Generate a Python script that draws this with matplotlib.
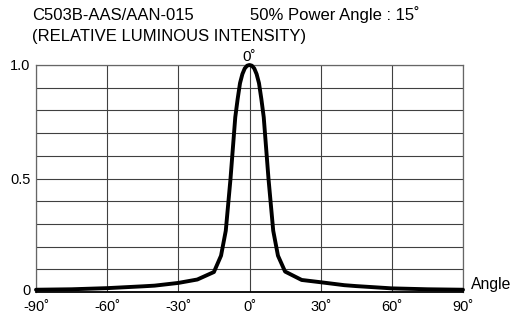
#!/usr/bin/env python3
import matplotlib
matplotlib.use("Agg")
import matplotlib.pyplot as plt
import matplotlib.transforms as mtransforms
import numpy as np

# radiation pattern
angles = [-90, -75, -60, -45, -40, -30, -22, -15, -12, -10, -8, -6, -5, -4, -3, -2, -1, 0,
          1, 2, 3, 4, 5, 6, 8, 10, 12, 15, 22, 30, 40, 45, 60, 75, 90]
intensity = [0.010, 0.012, 0.017, 0.025, 0.028, 0.040, 0.055, 0.088, 0.16, 0.27, 0.50, 0.77,
             0.85, 0.92, 0.96, 0.985, 0.997, 1.0,
             0.997, 0.985, 0.96, 0.92, 0.85, 0.77, 0.50, 0.27, 0.16, 0.09, 0.053, 0.043,
             0.030, 0.026, 0.016, 0.012, 0.010]

x_ticks = [-90, -60, -30, 0, 30, 60, 90]
x_labels = ["-90˚", "-60˚", "-30˚", "0˚", "30˚", "60˚", "90˚"]
y_ticks = [0, 0.5, 1.0]
y_labels = ["0", "0.5", "1.0"]

plt.rcParams["font.family"] = ["Liberation Sans", "DejaVu Sans"]
FS = 10.5
TITLE_FS = 12

fig = plt.figure(figsize=(5.13, 3.16), dpi=100)
ax = fig.add_axes([36 / 513, 1 - 292 / 316, (463 - 36) / 513, (292 - 65) / 316])

ax.set_xlim(-90, 90)
ax.set_ylim(0, 1.0)
ax.set_xticks(x_ticks)
ax.set_xticklabels(x_labels, fontsize=FS)
ax.set_yticks(y_ticks)
ax.set_yticklabels(y_labels, fontsize=FS)
ax.tick_params(axis="x", length=0, pad=6)
ax.tick_params(axis="y", length=0, pad=4)
ax.set_yticks(np.arange(0, 1.01, 0.1), minor=True)
ax.tick_params(which="minor", length=0)
ax.grid(True, which="both", color="0.25", lw=0.8)
ax.set_axisbelow(True)
for side in ["left", "right", "top"]:
    ax.spines[side].set_color("0.4")
    ax.spines[side].set_linewidth(0.9)
ax.spines["bottom"].set_color("black")
ax.spines["bottom"].set_linewidth(1.3)

# the "0" sits a little high so it clears the -90 label
zero_label = ax.get_yticklabels()[0]
zero_label.set_transform(zero_label.get_transform()
                         + mtransforms.ScaledTranslation(0, 2 / 72, fig.dpi_scale_trans))

ax.plot(angles, intensity, color="black", lw=2.8, solid_joinstyle="round",
        solid_capstyle="round", clip_on=False, zorder=3)

fig.text(32 / 513, 1 - 15 / 316, "C503B-AAS/AAN-015", fontsize=TITLE_FS, va="center")
fig.text(250 / 513, 1 - 15 / 316, "50% Power Angle : 15˚", fontsize=TITLE_FS, va="center")
fig.text(32 / 513, 1 - 36 / 316, "(RELATIVE LUMINOUS INTENSITY)", fontsize=TITLE_FS,
         va="center")
fig.text(249 / 513, 1 - 57 / 316, "0˚", fontsize=11, ha="center", va="center")
fig.text(471 / 513, 1 - 285 / 316, "Angle", fontsize=11.3, va="center")

fig.savefig("out.png", dpi=100)
